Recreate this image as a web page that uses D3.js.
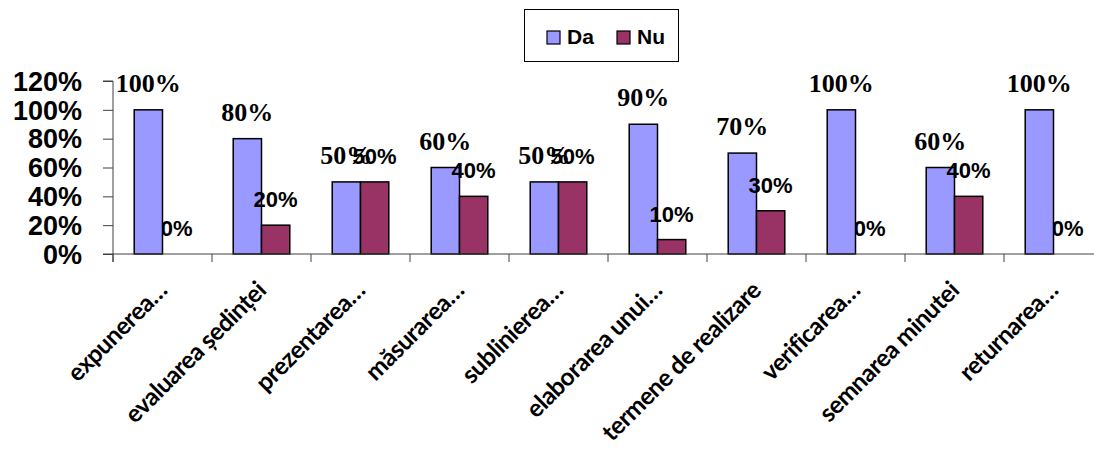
<!DOCTYPE html>
<html>
<head>
<meta charset="utf-8">
<script src="https://cdn.jsdelivr.net/npm/d3@7"></script>
<style>
  html, body { margin: 0; padding: 0; background: #ffffff; }
  svg { display: block; }
</style>
</head>
<body>
<svg id="chart" width="1094" height="461"></svg>
<script>
// Survey answers per meeting step (share of respondents)
const categories = [
  "expunerea…",
  "evaluarea ședinței",
  "prezentarea…",
  "măsurarea…",
  "sublinierea…",
  "elaborarea unui…",
  "termene de realizare",
  "verificarea…",
  "semnarea minutei",
  "returnarea…"
];
const seriesNames = ["Da", "Nu"];
const daValues = [1.00, 0.80, 0.50, 0.60, 0.50, 0.90, 0.70, 1.00, 0.60, 1.00];
const nuValues = [0.00, 0.20, 0.50, 0.40, 0.50, 0.10, 0.30, 0.00, 0.40, 0.00];
const yTicks = [0, 0.2, 0.4, 0.6, 0.8, 1.0, 1.2];
const colors = { Da: "#9999FF", Nu: "#993366" };

const svg = d3.select("#chart");

const plot = { left: 113, right: 1103, top: 81, bottom: 254 };

const x = d3.scaleBand()
  .domain(categories)
  .range([plot.left, plot.right])
  .paddingInner(0)
  .paddingOuter(0);

// Two bars per category with a 150% gap between groups
const barW = x.bandwidth() / 3.5;
const xs = d3.scaleBand()
  .domain(seriesNames)
  .range([0, barW * 2]);
const groupOffset = (x.bandwidth() - barW * 2) / 2;

const y = d3.scaleLinear()
  .domain([0, 1.2])
  .range([plot.bottom, plot.top]);

const pct = d3.format(".0%");

const rows = categories.map((c, i) => ({ cat: c, Da: daValues[i], Nu: nuValues[i] }));
const marks = [];
rows.forEach(r => seriesNames.forEach(s => marks.push({ cat: r.cat, s, v: r[s] })));

const barX = d => x(d.cat) + groupOffset + xs(d.s);
const labelX = d => barX(d) + barW / 2;

// Value labels
function drawLabels(sel) {
  sel.append("text")
    .attr("x", labelX)
    .attr("y", d => y(d.v) - 18)
    .attr("text-anchor", "middle")
    .attr("font-family", d => d.s === "Da" ? "'Liberation Serif', 'Times New Roman', serif" : "'Liberation Sans', Arial, sans-serif")
    .attr("font-size", d => d.s === "Da" ? 26 : 22)
    .attr("font-weight", "bold")
    .attr("fill", "#000")
    .text(d => pct(d.v));
}

// Labels of empty bars sit behind the neighbouring bars
svg.append("g").selectAll("g")
  .data(marks.filter(d => d.v === 0))
  .join("g")
  .call(drawLabels);

// Bars
svg.append("g").selectAll("rect")
  .data(marks.filter(d => d.v > 0))
  .join("rect")
  .attr("x", barX)
  .attr("y", d => y(d.v))
  .attr("width", barW)
  .attr("height", d => y(0) - y(d.v))
  .attr("fill", d => colors[d.s])
  .attr("stroke", "#000")
  .attr("stroke-width", 1.5);

// Y axis
const yAxis = svg.append("g")
  .attr("transform", `translate(${plot.left},0)`)
  .call(d3.axisLeft(y).tickValues(yTicks).tickSize(10).tickPadding(21).tickFormat(pct));
yAxis.select(".domain").attr("stroke", "#404040").attr("d", `M-10,${plot.top}H0V${plot.bottom + 8}`);
yAxis.selectAll(".tick line").attr("stroke", "#404040");
yAxis.selectAll(".tick text")
  .attr("font-family", "'Liberation Sans', Arial, sans-serif")
  .attr("font-size", 27)
  .attr("font-weight", "bold")
  .attr("fill", "#000")
  .attr("dy", "0.34em");

// X axis: ticks between categories
const xAxisG = svg.append("g");
xAxisG.append("line")
  .attr("x1", plot.left - 10).attr("x2", plot.right)
  .attr("y1", y(0)).attr("y2", y(0))
  .attr("stroke", "#404040");
xAxisG.selectAll("line.tick")
  .data(categories)
  .join("line")
  .attr("class", "tick")
  .attr("x1", d => x(d)).attr("x2", d => x(d))
  .attr("y1", y(0)).attr("y2", y(0) + 8)
  .attr("stroke", "#404040");

// Rotated category labels
xAxisG.selectAll("text")
  .data(categories)
  .join("text")
  .attr("transform", d => `translate(${x(d) + x.bandwidth() / 2 + 6},${y(0) + 38}) rotate(-45)`)
  .attr("text-anchor", "end")
  .attr("font-family", "Lato, 'Open Sans', sans-serif")
  .attr("font-size", 24.5)
  .attr("letter-spacing", -0.5)
  .attr("font-weight", "bold")
  .attr("fill", "#000")
  .text(d => d);

// Labels on top of bars
svg.append("g").selectAll("g")
  .data(marks.filter(d => d.v > 0))
  .join("g")
  .call(drawLabels);

// Legend
const legend = svg.append("g");
legend.append("rect")
  .attr("x", 524.5).attr("y", 9.5)
  .attr("width", 154).attr("height", 52)
  .attr("fill", "#fff").attr("stroke", "#000").attr("stroke-width", 1);
const legendX = d3.scaleOrdinal().domain(seriesNames).range([547, 617]);
const li = legend.selectAll("g.item")
  .data(seriesNames)
  .join("g")
  .attr("class", "item")
  .attr("transform", d => `translate(${legendX(d)},31)`);
li.append("rect")
  .attr("width", 13).attr("height", 13)
  .attr("fill", d => colors[d])
  .attr("stroke", "#000").attr("stroke-width", 1.2);
li.append("text")
  .attr("x", 20).attr("y", 13)
  .attr("font-family", "'Liberation Sans', Arial, sans-serif")
  .attr("font-size", 21)
  .attr("font-weight", "bold")
  .attr("fill", "#000")
  .text(d => d);
</script>
</body>
</html>
